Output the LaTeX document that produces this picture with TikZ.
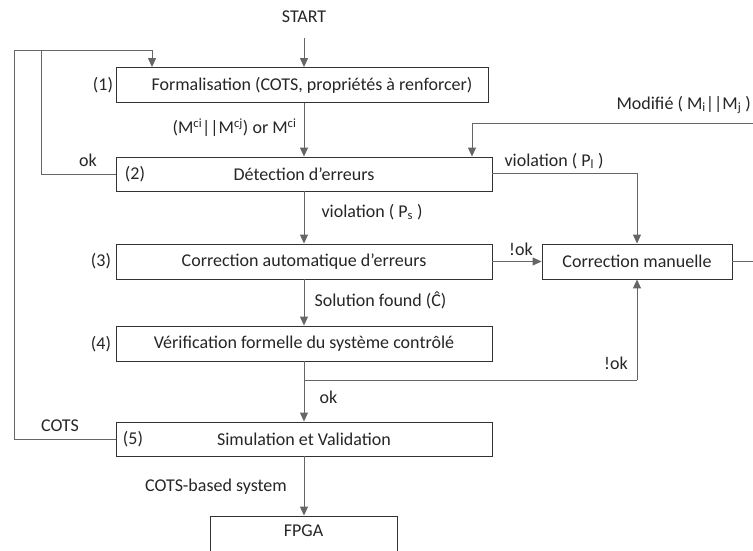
\documentclass[tikz,border=0pt]{standalone}
\usepackage{fontspec}
\setmainfont{Carlito}
\usetikzlibrary{arrows.meta}
\begin{document}
\begin{tikzpicture}[x=1pt,y=-1pt,
  every node/.style={font=\fontsize{18}{21}\selectfont, text=black!85},
  box/.style={draw=black!80, line width=0.9pt, minimum height=35pt, inner sep=0pt},
  ln/.style={draw=black!60, line width=1pt},
  arr/.style={ln, -{Triangle[width=8pt,length=9pt]}}]
\clip (0,0) rectangle (753,550);
\fill[white] (0,0) rectangle (753,550);
\coordinate (m) at (304,0);
% boxes
\node[box, minimum width=372pt] (b1) at (302,85) {};
\node (t1) at (312,85) {Formalisation (COTS, propriétés à renforcer)};
\node[box, minimum width=376pt, minimum height=34pt] (b2) at (304,174) {Détection d’erreurs};
\node[box, minimum width=376pt] (b3) at (304,261.5) {Correction automatique d’erreurs};
\node[box, minimum width=376pt] (b4) at (304,343.5) {Vérification formelle du système contrôlé};
\node[box, minimum width=376pt, minimum height=34pt] (b5) at (304,439) {Simulation et Validation};
\node[box, minimum width=190pt] (cm) at (637,261.5) {Correction manuelle};
\node[box, minimum width=187pt, minimum height=58pt] (fp) at (303.5,545) {};
\node (fpt) at (303.5,531) {FPGA};
% numbers
\node (n1) at (103,85) {(1)};
\node (n2) at (135,174) {(2)};
\node (n3) at (101,261) {(3)};
\node (n4) at (101,344) {(4)};
\node (n5) at (133,439) {(5)};
% start
\node (st) at (304,17) {START};
% coordinates
\coordinate (tl) at (14,50);
\coordinate (ti) at (41,50);
\coordinate (tt) at (152,50);
\coordinate (j) at (304,380);
\coordinate (rr) at (765,123);
\coordinate (kk) at (472,123);
\coordinate (pl) at (492,173);
% connectors
\draw[arr] (304,38) -- (st.south |- b1.north);
\draw[arr] (b1.south -| m) -- (b2.north -| m);
\draw[arr] (b2.south -| m) -- (b3.north -| m);
\draw[arr] (b3.south -| m) -- (b4.north -| m);
\draw[arr] (b4.south -| m) -- (b5.north -| m);
\draw[arr] (b5.south -| m) -- (fp.north -| m);
\draw[ln] (j) -- (j -| cm.south);
\draw[arr] (j -| cm.south) -- (cm.south);
\draw[arr] (b5.west) -| (tl) -- (tt) -- (tt |- b1.north);
\draw[ln] (b2.west) -| (ti);
\draw[arr] (pl) -| (cm.north);
\draw[arr] (b3.east) -- (cm.west);
\draw[ln] (cm.east) -| (rr) -- (kk);
\draw[arr] (kk) -- (kk |- b2.north);
% labels
\node[anchor=east] (l1) at (300,128) {(M\textsuperscript{ci}{|}{|}M\textsuperscript{cj}) or M\textsuperscript{ci}};
\node[anchor=west] (l2) at (318,212) {violation ( P\textsubscript{s} )};
\node[anchor=west] (l3) at (311,300) {Solution found (Ĉ)};
\node[anchor=west] (l4) at (316,397) {ok};
\node (l5) at (616,363) {!ok};
\node[anchor=west] (l6) at (501,161) {violation ( P\textsubscript{l} )};
\node (l7) at (521,249) {!ok};
\node[anchor=west] (l8) at (613,105) {Modifié ( M\textsubscript{i}{|}{|}M\textsubscript{j} )};
\node (l9) at (216,487) {COTS-based system};
\node (l10) at (88,160) {ok};
\node (l11) at (60,426) {COTS};
\end{tikzpicture}
\end{document}
